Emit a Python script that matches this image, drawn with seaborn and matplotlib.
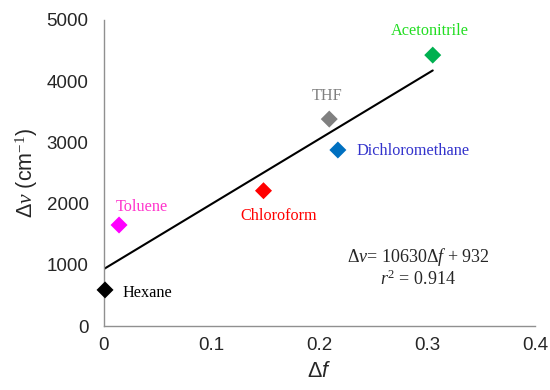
import numpy as np
import pandas as pd
import matplotlib
matplotlib.use("Agg")
import matplotlib.pyplot as plt
import seaborn as sns

# data
solvents = ["Hexane", "Toluene", "Chloroform", "THF", "Dichloromethane", "Acetonitrile"]
delta_f = [0.001, 0.014, 0.148, 0.209, 0.217, 0.305]
delta_nu = [590, 1650, 2210, 3380, 2875, 4425]
marker_colors = ["#000000", "#FF00FF", "#FF0000", "#808080", "#0070C0", "#00B050"]
label_colors = ["#000000", "#FF33CC", "#FF0000", "#808080", "#3333CC", "#22DD22"]
slope, intercept = 10630, 932

df = pd.DataFrame({"solvent": solvents, "df": delta_f, "dnu": delta_nu})
fit_x = np.array([0, max(delta_f)])
fit = pd.DataFrame({"x": fit_x, "y": slope * fit_x + intercept})

sns.set_style("white")
plt.rcParams["font.family"] = ["Liberation Sans", "DejaVu Sans"]
plt.rcParams["mathtext.fontset"] = "custom"
plt.rcParams["mathtext.rm"] = "Liberation Serif"
plt.rcParams["mathtext.it"] = "Liberation Serif:italic"
plt.rcParams["mathtext.sf"] = "Liberation Sans:italic"

fig = plt.figure(figsize=(5.5, 3.9), dpi=100)
ax = fig.add_axes([0.189, 0.164, 0.784, 0.785])

sns.lineplot(data=fit, x="x", y="y", color="black", linewidth=1.5, ax=ax)
sns.scatterplot(data=df, x="df", y="dnu", hue="solvent", palette=marker_colors,
                marker="D", s=75, edgecolor="none", legend=False, ax=ax,
                zorder=3, clip_on=False)

# solvent labels (pixel offsets from each point)
offsets = {"Hexane": (17, -3, "left"), "Toluene": (-3, 18, "left"),
           "Chloroform": (15, -25, "center"), "THF": (-2, 23, "center"),
           "Dichloromethane": (19, -1, "left"), "Acetonitrile": (-3, 24, "center")}
for name, x, y, c in zip(solvents, delta_f, delta_nu, label_colors):
    dx, dy, ha = offsets[name]
    ax.annotate(name, (x, y), xytext=(dx, dy), textcoords="offset pixels",
                ha=ha, va="center", color=c, fontsize=11.7,
                family="Liberation Serif")

ax.text(0.729, 0.225, r"$\Delta\nu$= 10630$\Delta f$ + 932", transform=ax.transAxes,
        ha="center", va="center", fontsize=13, family="Liberation Serif")
ax.text(0.729, 0.152, r"$r^2$ = 0.914", transform=ax.transAxes,
        ha="center", va="center", fontsize=13, family="Liberation Serif")

ax.set_xlim(0, 0.4)
ax.set_ylim(0, 5000)
ax.set_xticks([0, 0.1, 0.2, 0.3, 0.4])
ax.set_xticklabels(["0", "0.1", "0.2", "0.3", "0.4"])
ax.set_yticks(range(0, 5001, 1000))
ax.tick_params(direction="in", length=5, width=1, color="#909090",
               labelsize=13.5, pad=8)
ax.tick_params(axis="y", pad=11)

ax.set_xlabel(r"Δ$\mathsf{f}$", fontsize=15.5, labelpad=5)
ax.set_ylabel(r"Δ$\nu$ (cm$^{\mathrm{-1}}$)", fontsize=15.5, labelpad=5)

sns.despine(ax=ax)
for side in ["left", "bottom"]:
    ax.spines[side].set_color("#909090")
    ax.spines[side].set_linewidth(1)

fig.savefig("out.png", dpi=100)
